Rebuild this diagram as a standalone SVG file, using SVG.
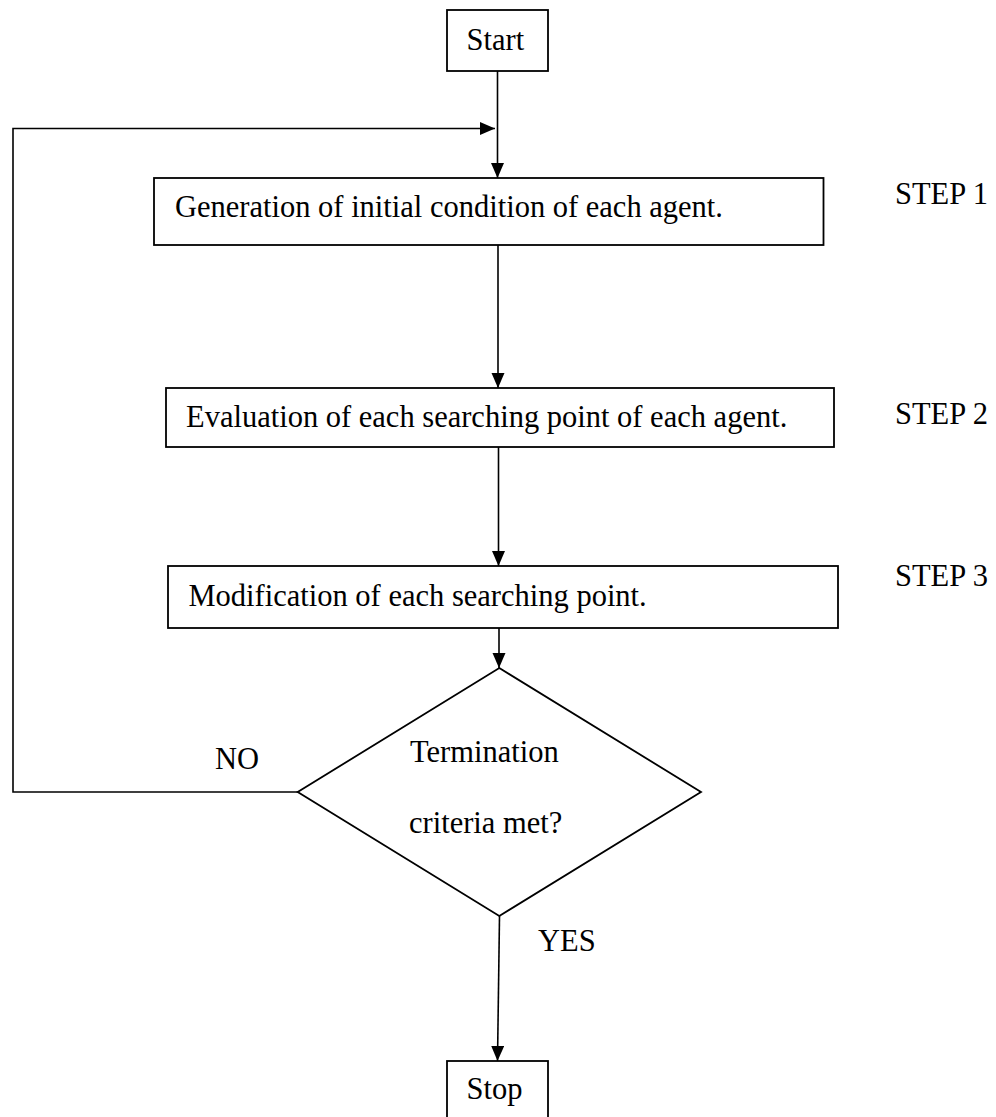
<svg xmlns="http://www.w3.org/2000/svg" width="996" height="1117" viewBox="0 0 996 1117">
<style>
.box{fill:#fff;stroke:#000;stroke-width:1.8}
.ln{fill:none;stroke:#000;stroke-width:1.6}
.t{font-family:"Liberation Serif","Times New Roman",serif;font-size:30.5px;fill:#000}
</style>
<defs>
<marker id="ah" markerUnits="userSpaceOnUse" markerWidth="16" markerHeight="14" refX="15" refY="6.5" orient="auto">
<path d="M0,0 L15,6.5 L0,13 z" fill="#000"/>
</marker>
</defs>
<rect width="996" height="1117" fill="#fff"/>
<g id="connectors">
<line class="ln" x1="497.5" y1="71" x2="497.5" y2="178" marker-end="url(#ah)"/>
<polyline class="ln" points="298,792 13,792 13,128.5 495,128.5" marker-end="url(#ah)"/>
<line class="ln" x1="498" y1="245" x2="498" y2="388" marker-end="url(#ah)"/>
<line class="ln" x1="498.5" y1="447" x2="498.5" y2="566" marker-end="url(#ah)"/>
<line class="ln" x1="499" y1="628" x2="499" y2="668" marker-end="url(#ah)"/>
<line class="ln" x1="499.5" y1="916" x2="497.5" y2="1061" marker-end="url(#ah)"/>
</g>
<g id="start">
<rect class="box" x="447" y="10" width="101" height="61"/>
<text class="t" x="466.5" y="49.5">Start</text>
</g>
<g id="step1">
<rect class="box" x="154" y="178" width="669.5" height="67"/>
<text class="t" x="175" y="217">Generation of initial condition of each agent.</text>
<text class="t" x="895" y="203.5">STEP 1</text>
</g>
<g id="step2">
<rect class="box" x="166" y="388" width="668" height="59"/>
<text class="t" x="186" y="426.5">Evaluation of each searching point of each agent.</text>
<text class="t" x="895" y="423.5">STEP 2</text>
</g>
<g id="step3">
<rect class="box" x="168" y="566" width="670" height="62"/>
<text class="t" x="188.5" y="605.5">Modification of each searching point.</text>
<text class="t" x="895" y="586">STEP 3</text>
</g>
<g id="decision">
<polygon class="box" points="499.3,668 701,792 499.3,916 297.7,792"/>
<text class="t" x="410" y="761.5">Termination</text>
<text class="t" x="409" y="833">criteria met?</text>
<text class="t" x="215" y="769">NO</text>
<text class="t" x="538" y="950.5">YES</text>
</g>
<g id="stop">
<rect class="box" x="447" y="1061" width="101" height="70"/>
<text class="t" x="466.5" y="1099">Stop</text>
</g>
</svg>
